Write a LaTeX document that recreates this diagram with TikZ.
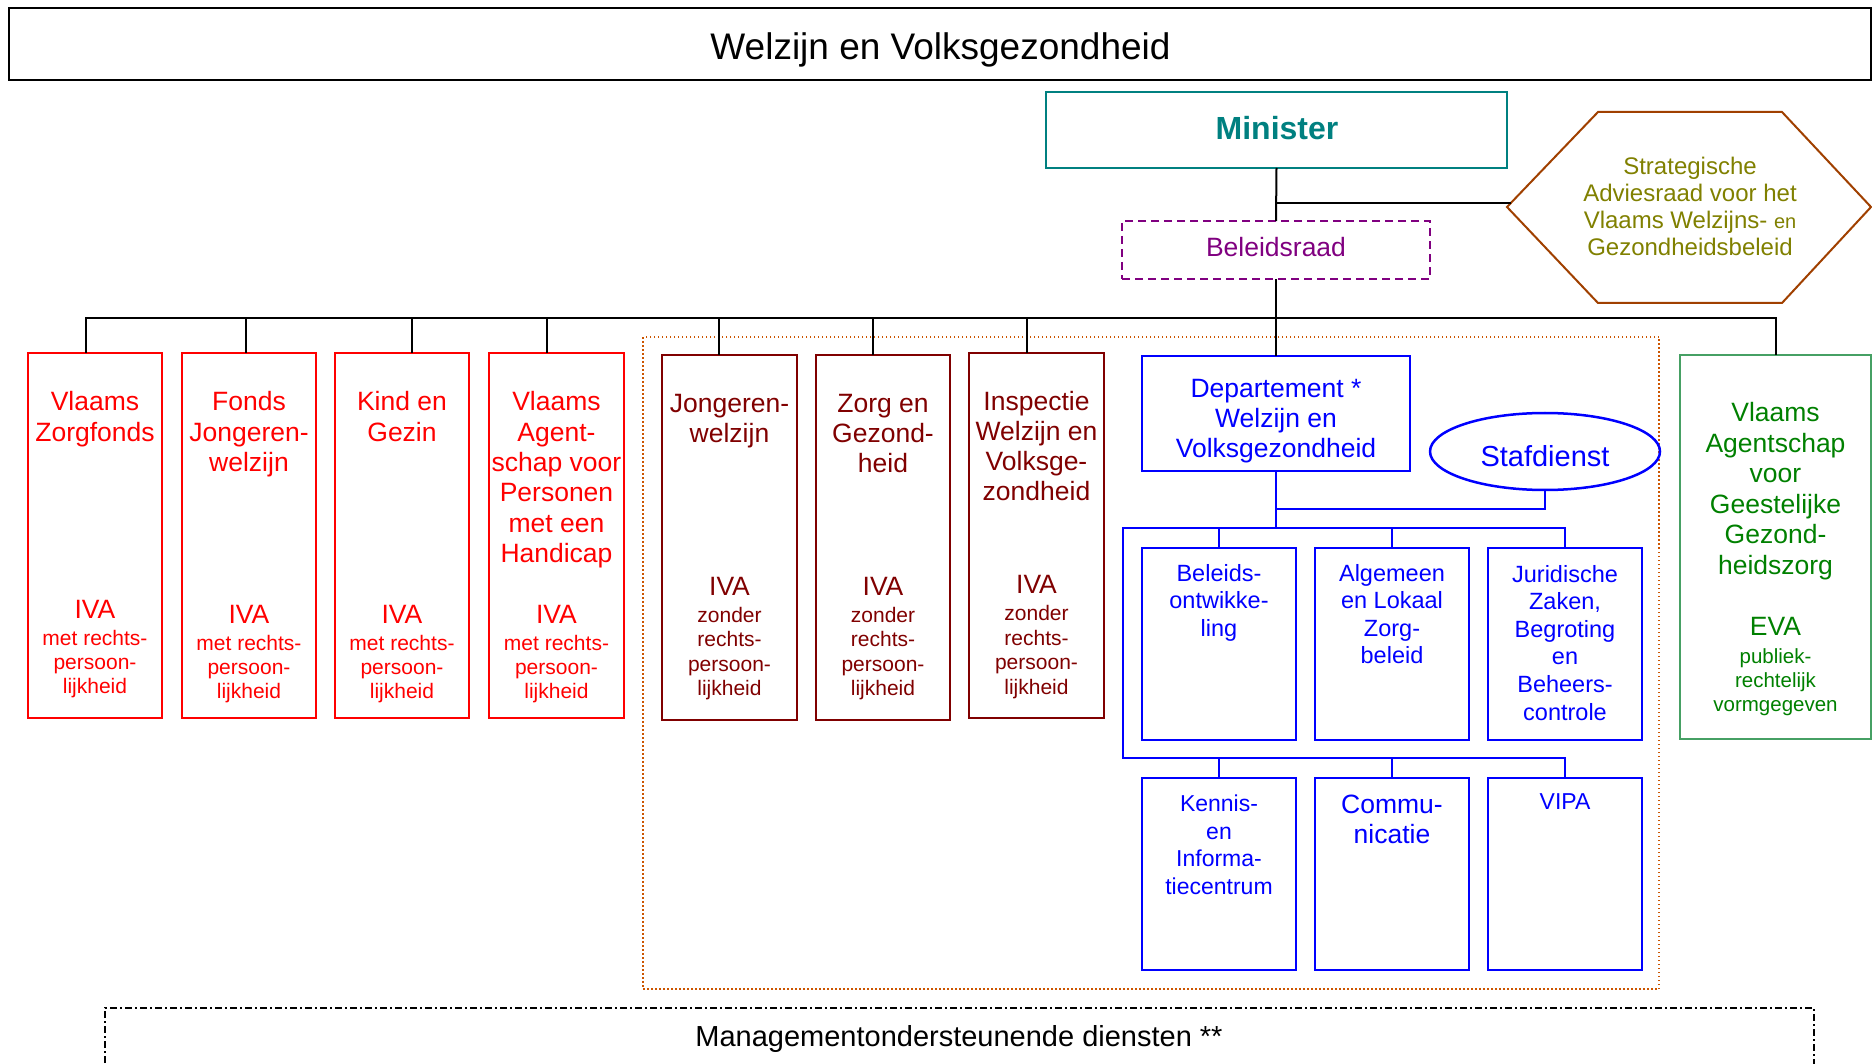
\documentclass[tikz,border=0pt]{standalone}
\usepackage{fontspec}
\setmainfont{Liberation Sans}
\usetikzlibrary{calc,shapes.geometric}
\definecolor{cteal}{RGB}{0,128,128}
\definecolor{cred}{RGB}{255,0,0}
\definecolor{cdred}{RGB}{128,0,0}
\definecolor{cblue}{RGB}{0,0,255}
\definecolor{cgreen}{RGB}{0,128,0}
\definecolor{cgreenb}{RGB}{70,160,100}
\definecolor{cpurple}{RGB}{128,0,128}
\definecolor{colive}{RGB}{128,128,0}
\definecolor{cbrown}{RGB}{160,64,0}
\definecolor{corange}{RGB}{204,85,0}
\newcommand{\fsz}[2]{\fontsize{#1}{#2}\selectfont}
\begin{document}
\begin{tikzpicture}[x=1pt,y=-1pt,
  every node/.style={inner sep=0pt, outer sep=0pt},
  bx/.style={draw, rectangle, anchor=north west, line width=2pt},
  redbox/.style={bx, draw=cred, minimum width=134pt, minimum height=365pt},
  dredbox/.style={bx, draw=cdred, line width=2.5pt, minimum width=135pt, minimum height=365pt},
  bluebox/.style={bx, draw=cblue, line width=2.5pt, minimum width=154pt, minimum height=192pt},
  tx/.style={anchor=north, align=center},
  nameA/.style={tx, font=\fsz{26.5}{30.3}},
  ivaA/.style={tx, font=\fsz{26.5}{30}},
  smallA/.style={tx, font=\fsz{21}{24}},
  smallB/.style={tx, font=\fsz{21}{24.4}},
  blueA/.style={tx, text=cblue, font=\fsz{23.5}{27.6}},
  conn/.style={line width=2pt, black},
  bconn/.style={line width=2.5pt, cblue}
]
\useasboundingbox (0,0) rectangle (1872,1064);

% title
\node[bx, minimum width=1862pt, minimum height=72pt] (titlebox) at (9,8) {};
\node[anchor=base, font=\fsz{37}{44}] (title) at (940.5,60) {Welzijn en Volksgezondheid};

% minister
\node[bx, draw=cteal, minimum width=461pt, minimum height=76pt] (minister) at (1046,92) {};
\node[anchor=base, text=cteal, font=\fsz{32}{38}\bfseries] (minister-t) at (1277,140) {Minister};

% beleidsraad
\node[bx, draw=cpurple, dash pattern=on 8pt off 5pt, minimum width=308pt, minimum height=58pt] (belr) at (1122,221) {};
\node[anchor=base, text=cpurple, font=\fsz{26.5}{30}] (belr-t) at (1276,257) {Beleidsraad};

% hexagon
\draw[line width=2pt, cbrown] (1507,207) -- (1598,112) -- (1782,112) -- (1871,207) -- (1782,303) -- (1598,303) -- cycle;
\coordinate (hexw) at (1511,203);
\node[tx, text=colive, font=\fsz{24}{27}] (sarad) at (1690,157.4) {Strategische\\Adviesraad voor het\\Vlaams Welzijns- {\fsz{20}{27}en}\\Gezondheidsbeleid};

% dotted zone
\node[bx, draw=corange, line width=1.5pt, dash pattern=on 1.5pt off 2.5pt, minimum width=1016pt, minimum height=652pt] (ivazone) at (643,337) {};

% red boxes
\node[redbox] (vzf) at (28,353) {};
\node[redbox] (fjw) at (182,353) {};
\node[redbox] (kg) at (335,353) {};
\node[redbox, minimum width=135pt] (vaph) at (489,353) {};
\node[nameA, text=cred] (vzf-n) at (vzf.north |- 0,391.7) {Vlaams\\Zorgfonds};
\node[nameA, text=cred] (fjw-n) at (fjw.north |- 0,391.7) {Fonds\\Jongeren-\\welzijn};
\node[nameA, text=cred] (kg-n) at (kg.north |- 0,391.7) {Kind en\\Gezin};
\node[nameA, text=cred] (vaph-n) at (vaph.north |- 0,391.7) {Vlaams\\Agent-\\schap voor\\Personen\\met een\\Handicap};
\node[ivaA, text=cred] (vzf-i) at (vzf.north |- 0,600) {IVA};
\node[ivaA, text=cred] (fjw-i) at (fjw.north |- 0,605.7) {IVA};
\node[ivaA, text=cred] (kg-i) at (kg.north |- 0,605.7) {IVA};
\node[ivaA, text=cred] (vaph-i) at (vaph.north |- 0,605.7) {IVA};
\node[smallA, text=cred] (vzf-s) at (vzf.north |- 0,630) {met rechts-\\persoon-\\lijkheid};
\node[smallA, text=cred] (fjw-s) at (fjw.north |- 0,635.5) {met rechts-\\persoon-\\lijkheid};
\node[smallA, text=cred] (kg-s) at (kg.north |- 0,635.5) {met rechts-\\persoon-\\lijkheid};
\node[smallA, text=cred] (vaph-s) at (vaph.north |- 0,635.5) {met rechts-\\persoon-\\lijkheid};

% dark red boxes
\node[dredbox] (jw) at (662,355) {};
\node[dredbox, minimum width=134pt] (zg) at (816,355) {};
\node[dredbox] (insp) at (969,353) {};
\node[nameA, text=cdred, font=\fsz{26.5}{30}] (jw-n) at (jw.north |- 0,394) {Jongeren-\\welzijn};
\node[nameA, text=cdred, font=\fsz{26.5}{30}] (zg-n) at (zg.north |- 0,394) {Zorg en\\Gezond-\\heid};
\node[nameA, text=cdred, font=\fsz{26.5}{30}] (insp-n) at (insp.north |- 0,391.7) {Inspectie\\Welzijn en\\Volksge-\\zondheid};
\node[ivaA, text=cdred] (jw-i) at (jw.north |- 0,577.3) {IVA};
\node[ivaA, text=cdred] (zg-i) at (zg.north |- 0,577.3) {IVA};
\node[ivaA, text=cdred] (insp-i) at (insp.north |- 0,575) {IVA};
\node[smallB, text=cdred] (jw-s) at (jw.north |- 0,607.3) {zonder\\rechts-\\persoon-\\lijkheid};
\node[smallB, text=cdred] (zg-s) at (zg.north |- 0,607.3) {zonder\\rechts-\\persoon-\\lijkheid};
\node[smallB, text=cdred] (insp-s) at (insp.north |- 0,605.7) {zonder\\rechts-\\persoon-\\lijkheid};

% departement
\node[bx, draw=cblue, line width=2.5pt, minimum width=268pt, minimum height=115pt] (dept) at (1142,356) {};
\node[tx, text=cblue, font=\fsz{26.5}{30}] (dept-t) at (dept.north |- 0,379.3) {Departement *\\Welzijn en\\Volksgezondheid};
\node[draw=cblue, line width=2.5pt, ellipse, minimum width=230pt, minimum height=77pt] (staf) at (1545,451.5) {};
\node[anchor=base, text=cblue, font=\fsz{29}{34}] (staf-t) at (1545,466) {Stafdienst};

% blue row 1
\node[bluebox] (bel) at (1142,548) {};
\node[bluebox] (alg) at (1315,548) {};
\node[bluebox] (jur) at (1488,548) {};
\node[blueA] (bel-t) at (bel.north |- 0,564) {Beleids-\\ontwikke-\\ling};
\node[blueA] (alg-t) at (alg.north |- 0,564) {Algemeen\\en Lokaal\\Zorg-\\beleid};
\node[blueA] (jur-t) at (jur.north |- 0,565) {Juridische\\Zaken,\\Begroting\\en\\Beheers-\\controle};

% blue row 2
\node[bluebox] (ken) at (1142,778) {};
\node[bluebox] (com) at (1315,778) {};
\node[bluebox] (vipa) at (1488,778) {};
\node[blueA, font=\fsz{23}{27.5}] (ken-t) at (ken.north |- 0,795) {Kennis-\\en\\Informa-\\tiecentrum};
\node[blueA, font=\fsz{26.5}{30}] (com-t) at (com.north |- 0,795) {Commu-\\nicatie};
\node[blueA, font=\fsz{23}{27.5}] (vipa-t) at (vipa.north |- 0,794) {VIPA};

% green
\node[bx, draw=cgreenb, minimum width=191pt, minimum height=384pt] (vagg) at (1680,355) {};
\node[tx, text=cgreen, font=\fsz{26.5}{30.5}] (vagg-n) at (vagg.north |- 0,402.7) {Vlaams\\Agentschap\\voor\\Geestelijke\\Gezond-\\heidszorg};
\node[tx, text=cgreen, font=\fsz{26.5}{30}] (vagg-e) at (vagg.north |- 0,617.3) {EVA};
\node[tx, text=cgreen, font=\fsz{20.5}{24}] (vagg-s) at (vagg.north |- 0,648.3) {publiek-\\rechtelijk\\vormgegeven};

% management
\node[anchor=north west, minimum width=1709pt, minimum height=70pt] (mgmt) at (105,1008) {};
\draw[line width=1.5pt, dash pattern=on 7pt off 3pt on 2pt off 3pt] (mgmt.south west) -- (mgmt.north west) -- (mgmt.north east) -- (mgmt.south east);
\node[anchor=base, font=\fsz{29}{34}] (mgmt-t) at (959,1046) {Managementondersteunende diensten **};

% black connectors
\coordinate (bus) at (0,318);
\draw[conn] (minister.south) -- (belr.north);
\draw[conn] (minister.south |- hexw) -- (hexw);
\draw[conn] (belr.south) -- (dept.north);
\coordinate (d1) at ($(vzf.north)+(-9,0)$);
\coordinate (d2) at ($(fjw.north)+(-3,0)$);
\coordinate (d3) at ($(kg.north)+(9.5,0)$);
\coordinate (d4) at ($(vaph.north)+(-9.5,0)$);
\coordinate (d5) at ($(jw.north)+(-10.5,0)$);
\coordinate (d6) at ($(zg.north)+(-10,0)$);
\coordinate (d7) at ($(insp.north)+(-9.5,0)$);
\draw[conn] (d1) -- (d1 |- bus) -- (vagg.north |- bus) -- (vagg.north);
\foreach \d in {d2,d3,d4,d5,d6,d7} \draw[conn] (\d) -- (\d |- bus);

% blue connectors
\coordinate (sy) at (0,509);
\coordinate (bl) at (1123,528);
\coordinate (bl2) at (1123,758);
\draw[bconn] (dept.south) -- (dept.south |- bl);
\draw[bconn] (staf.south) -- (staf.south |- sy) -- (dept.south |- sy);
\draw[bconn] (jur.north) -- (jur.north |- bl) -- (bl) -- (bl2) -- (vipa.north |- bl2) -- (vipa.north);
\draw[bconn] (bel.north) -- (bel.north |- bl);
\draw[bconn] (alg.north) -- (alg.north |- bl);
\draw[bconn] (ken.north) -- (ken.north |- bl2);
\draw[bconn] (com.north) -- (com.north |- bl2);
\end{tikzpicture}
\end{document}
